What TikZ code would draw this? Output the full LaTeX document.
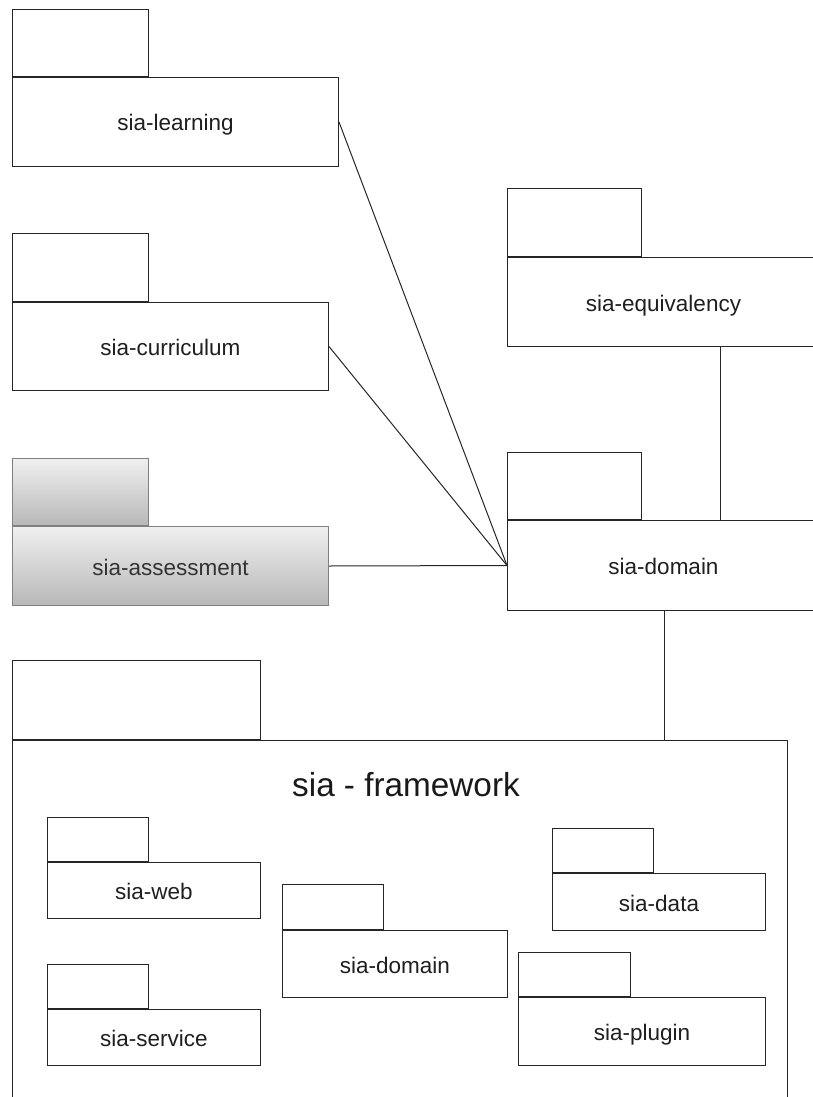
\documentclass[tikz,border=0pt]{standalone}
\usepackage{fontspec}
\setmainfont{Liberation Sans}
\usepackage{tikz}

\begin{document}
\begin{tikzpicture}[x=1pt, y=-1pt, line width=1pt,
  pkg/.style={draw=black!85, fill=white, rectangle, anchor=north west, inner sep=0pt,
    text height=18pt, text depth=0pt, font=\fontsize{22.5}{27}\selectfont, text=black!88},
  tab/.style={draw=black!85, fill=white, rectangle, anchor=south west, inner sep=0pt},
  small pkg/.style={pkg},
  shaded pkg/.style={draw=black!50, top color=black!6, bottom color=black!28, text=black!80}]
\useasboundingbox (0,0) rectangle (813,1097);
\clip (0,0) rectangle (813,1097);

% outer packages
\node[pkg, minimum width=326pt, minimum height=89pt] (learning body) at (12,77) {sia-learning};
\node[tab, minimum width=136pt, minimum height=67pt] (learning tab) at (learning body.north west) {};

\node[pkg, minimum width=316pt, minimum height=88pt] (curriculum body) at (12,302) {sia-curriculum};
\node[tab, minimum width=136pt, minimum height=68pt] (curriculum tab) at (curriculum body.north west) {};

\node[pkg, shaded pkg, minimum width=316pt, minimum height=79pt] (assessment body) at (12,526) {sia-assessment};
\node[tab, shaded pkg, anchor=south west, minimum width=136pt, minimum height=67pt] (assessment tab) at (assessment body.north west) {};

\node[pkg, minimum width=312pt, minimum height=89pt] (equivalency body) at (507,257) {sia-equivalency};
\node[tab, minimum width=134pt, minimum height=68pt] (equivalency tab) at (equivalency body.north west) {};

\node[pkg, minimum width=312pt, minimum height=90pt] (domain body) at (507,520) {sia-domain};
\node[tab, minimum width=134pt, minimum height=67pt] (domain tab) at (domain body.north west) {};

% framework
\node[pkg, minimum width=775pt, minimum height=380pt] (framework body) at (12,740) {};
\node[tab, minimum width=248pt, minimum height=79pt] (framework tab) at (framework body.north west) {};
\node[font=\fontsize{33.3}{40}\selectfont, text=black!90, text height=23pt, text depth=0pt] (framework title) at (406,785) {sia - framework};

\node[small pkg, minimum width=213pt, minimum height=56pt] (web body) at (47,862) {sia-web};
\node[tab, minimum width=101pt, minimum height=44pt] (web tab) at (web body.north west) {};

\node[small pkg, minimum width=213pt, minimum height=56pt] (service body) at (47,1009) {sia-service};
\node[tab, minimum width=101pt, minimum height=44pt] (service tab) at (service body.north west) {};

\node[small pkg, minimum width=225pt, minimum height=67pt] (inner domain body) at (282,930) {sia-domain};
\node[tab, minimum width=101pt, minimum height=45pt] (inner domain tab) at (inner domain body.north west) {};

\node[small pkg, minimum width=213pt, minimum height=57pt] (data body) at (552,873) {sia-data};
\node[tab, minimum width=101pt, minimum height=44pt] (data tab) at (data body.north west) {};

\node[small pkg, minimum width=247pt, minimum height=68pt] (plugin body) at (518,997) {sia-plugin};
\node[tab, minimum width=112pt, minimum height=44pt] (plugin tab) at (plugin body.north west) {};

% dependencies
\draw[black!85] (learning body.east) -- (domain body.west);
\draw[black!85] (curriculum body.east) -- (domain body.west);
\draw[black!85] (assessment body.east) -- (domain body.west);
\draw[black!85] ([xshift=57pt]equivalency body.south) -- ([xshift=57pt]domain body.north);
\draw[black!85] ([xshift=1pt]domain body.south) -- ([xshift=1pt]domain body.south |- framework body.north);

\end{tikzpicture}
\end{document}
